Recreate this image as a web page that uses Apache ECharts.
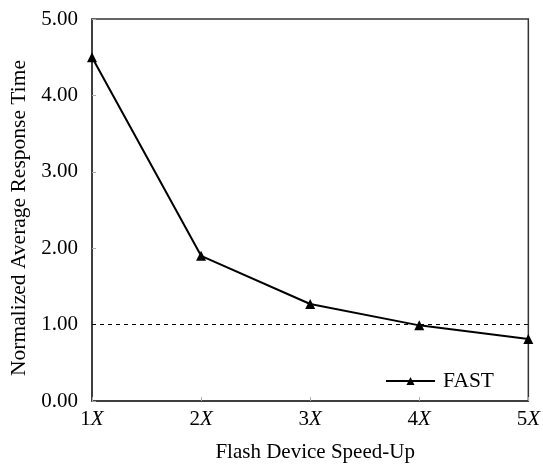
<!DOCTYPE html>
<html>
<head>
<meta charset="utf-8">
<script src="https://cdn.jsdelivr.net/npm/echarts@6/dist/echarts.min.js"></script>
<style>
html,body{margin:0;padding:0;background:#fff;}
#chart{width:543px;height:468px;}
</style>
</head>
<body>
<div id="chart"></div>
<script>
// Speed-up factors of the flash device and the normalized response times
const speedUps = ['1', '2', '3', '4', '5'];
const fastTimes = [4.50, 1.90, 1.27, 0.99, 0.81];
const baseline = 1.0;
const yTicks = [0, 1, 2, 3, 4, 5];

const serif = '"Liberation Serif", "DejaVu Serif", serif';
const chart = echarts.init(document.getElementById('chart'));

chart.setOption({
  animation: false,
  backgroundColor: '#fff',
  textStyle: { fontFamily: serif, color: '#000' },
  grid: { left: 92, right: 14, top: 19, bottom: 62, show: true, borderColor: '#333', borderWidth: 1.5 },
  legend: {
    data: ['FAST'],
    right: 44,
    top: 365,
    itemWidth: 49,
    itemHeight: 10,
    itemGap: 10,
    textStyle: { fontFamily: serif, fontSize: 21.5, color: '#000', padding: [0, 0, 0, 3] }
  },
  xAxis: {
    type: 'category',
    data: speedUps,
    boundaryGap: false,
    name: 'Flash Device Speed-Up',
    nameLocation: 'middle',
    nameGap: 41,
    nameTextStyle: { fontFamily: serif, fontSize: 21, color: '#000', padding: [0, 0, 0, 10] },
    axisLine: { lineStyle: { color: '#333', width: 1.5 } },
    axisTick: { show: true, inside: true, length: 4, lineStyle: { color: '#aaa' } },
    axisLabel: {
      margin: 8,
      formatter: v => '{n|' + v + '}{x|X}',
      rich: {
        n: { fontFamily: serif, fontSize: 21, color: '#000' },
        x: { fontFamily: serif, fontSize: 21, fontStyle: 'italic', color: '#000' }
      }
    },
    splitLine: { show: false }
  },
  yAxis: {
    type: 'value',
    min: yTicks[0],
    max: yTicks[yTicks.length - 1],
    interval: 1,
    name: 'Normalized Average Response Time',
    nameLocation: 'middle',
    nameGap: 61,
    nameTextStyle: { fontFamily: serif, fontSize: 21.5, color: '#000', padding: [0, 16, 0, 0] },
    axisLine: { show: true, lineStyle: { color: '#333', width: 1.5 } },
    axisTick: { show: true, inside: true, length: 4, lineStyle: { color: '#aaa' } },
    axisLabel: { fontFamily: serif, fontSize: 21, color: '#000', margin: 14, formatter: v => v.toFixed(2) },
    splitLine: { show: false }
  },
  series: [{
    name: 'FAST',
    type: 'line',
    data: fastTimes,
    symbol: 'triangle',
    symbolSize: 10,
    itemStyle: { color: '#000' },
    lineStyle: { color: '#000', width: 2 },
    markLine: {
      silent: true,
      symbol: 'none',
      label: { show: false },
      lineStyle: { color: '#000', type: [4, 4], width: 1 },
      data: [{ yAxis: baseline }]
    }
  }]
});
</script>
</body>
</html>
